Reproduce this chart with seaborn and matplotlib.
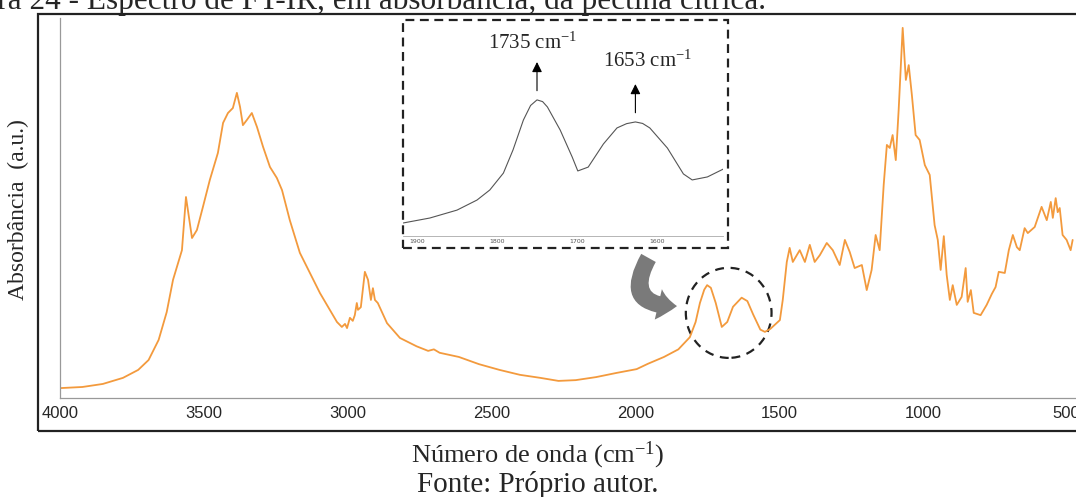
import numpy as np
import pandas as pd
import matplotlib
matplotlib.use("Agg")
import matplotlib.pyplot as plt
from matplotlib.patches import Rectangle, Ellipse, FancyArrowPatch
import seaborn as sns

# FT-IR spectrum of citric pectin (absorbance, arbitrary units)
wavenumber = [4000, 3922, 3851, 3781, 3728, 3692, 3657, 3629, 3607, 3576, 3562, 3541,
              3524, 3503, 3479, 3451, 3433, 3416, 3399, 3385, 3374, 3364, 3350, 3333,
              3315, 3294, 3270, 3246, 3228, 3201, 3166, 3096, 3037, 3020, 3009, 3002,
              2992, 2982, 2975, 2968, 2964, 2954, 2940, 2929, 2919, 2912, 2905, 2895,
              2863, 2818, 2760, 2720, 2700, 2680, 2613, 2543, 2472, 2401, 2330, 2267,
              2207, 2136, 2065, 1995, 1956, 1900, 1850, 1810, 1790, 1775, 1760, 1750,
              1737, 1720, 1699, 1680, 1660, 1630, 1610, 1590, 1565, 1549, 1530, 1497,
              1487, 1473, 1463, 1452, 1438, 1428, 1410, 1393, 1376, 1358, 1334, 1313,
              1289, 1271, 1254, 1237, 1212, 1195, 1178, 1164, 1150, 1136, 1125, 1115,
              1105, 1094, 1084, 1070, 1059, 1049, 1038, 1025, 1011, 993, 976, 959,
              948, 938, 927, 917, 906, 896, 882, 865, 851, 844, 833, 823, 799, 778,
              760, 747, 736, 715, 701, 687, 673, 663, 646, 635, 611, 587, 569, 555,
              548, 538, 531, 524, 514, 500, 486, 479]
absorbance = [0.026, 0.029, 0.037, 0.053, 0.074, 0.100, 0.153, 0.226, 0.311, 0.389, 0.529, 0.421,
              0.442, 0.503, 0.574, 0.645, 0.724, 0.750, 0.763, 0.803, 0.766, 0.718, 0.732, 0.750,
              0.713, 0.661, 0.608, 0.579, 0.547, 0.468, 0.382, 0.276, 0.200, 0.187, 0.195, 0.184,
              0.211, 0.203, 0.218, 0.250, 0.232, 0.239, 0.332, 0.311, 0.258, 0.289, 0.258, 0.250,
              0.197, 0.158, 0.136, 0.124, 0.128, 0.119, 0.108, 0.089, 0.074, 0.061, 0.053, 0.045,
              0.047, 0.055, 0.066, 0.076, 0.090, 0.108, 0.128, 0.160, 0.200, 0.250, 0.285, 0.297,
              0.290, 0.250, 0.187, 0.200, 0.240, 0.264, 0.255, 0.220, 0.180, 0.174, 0.182, 0.205,
              0.258, 0.358, 0.395, 0.358, 0.376, 0.389, 0.358, 0.403, 0.358, 0.376, 0.408, 0.389,
              0.350, 0.416, 0.384, 0.342, 0.350, 0.284, 0.337, 0.429, 0.389, 0.561, 0.666, 0.658,
              0.692, 0.626, 0.758, 0.974, 0.837, 0.876, 0.797, 0.692, 0.679, 0.613, 0.587, 0.455,
              0.416, 0.337, 0.426, 0.324, 0.258, 0.297, 0.245, 0.266, 0.342, 0.253, 0.284, 0.224,
              0.218, 0.245, 0.274, 0.292, 0.332, 0.329, 0.389, 0.429, 0.397, 0.389, 0.447, 0.434,
              0.450, 0.503, 0.468, 0.516, 0.474, 0.526, 0.489, 0.500, 0.429, 0.416, 0.389, 0.416]

# zoomed carbonyl region shown in the inset
inset_wavenumber = [1917, 1884, 1850, 1825, 1809, 1792, 1780, 1767, 1758, 1750, 1743, 1737,
                    1721, 1706, 1699, 1686, 1667, 1650, 1638, 1627, 1618, 1609, 1587, 1567,
                    1556, 1537, 1517]
inset_absorbance = [0.061, 0.084, 0.121, 0.168, 0.215, 0.294, 0.402, 0.542, 0.610, 0.636, 0.628, 0.603,
                    0.495, 0.369, 0.304, 0.322, 0.430, 0.505, 0.525, 0.533, 0.526, 0.505, 0.411, 0.290,
                    0.262, 0.276, 0.313]
peak_labels = ["1735 cm$^{\\mathrm{-1}}$", "1653 cm$^{\\mathrm{-1}}$"]

x_ticks = [4000, 3500, 3000, 2500, 2000, 1500, 1000, 500]
inset_ticks = [1900, 1800, 1700, 1600]

sns.set_style("white")
plt.rcParams["mathtext.fontset"] = "custom"
plt.rcParams["mathtext.rm"] = "Liberation Serif"
plt.rcParams["mathtext.it"] = "Liberation Serif:italic"

W, H = 1076, 497
fig = plt.figure(figsize=(W / 100, H / 100), dpi=100)

def fx(px):
    return px / W

def fy(py):
    return 1 - py / H

spec = pd.DataFrame({"wn": wavenumber, "A": absorbance})
ax = fig.add_axes([fx(60), fy(398), fx(1081) - fx(60), fy(18) - fy(398)])
sns.lineplot(data=spec, x="wn", y="A", ax=ax, color="#f39a3d", lw=1.3, sort=False)
ax.set_xlim(4000, 450)
ax.set_ylim(0, 1)
ax.set_xticks(x_ticks)
ax.set_xticklabels([str(t) for t in x_ticks], family="Liberation Sans", fontsize=12)
ax.set_yticks(np.linspace(0, 1, 11))
ax.set_yticklabels([])
ax.tick_params(axis="both", direction="in", color="#999999", length=4, width=0.8)
ax.tick_params(axis="x", pad=6)
ax.set_xlabel("")
ax.set_ylabel("")
for s in ["top", "right"]:
    ax.spines[s].set_visible(False)
for s in ["left", "bottom"]:
    ax.spines[s].set_color("#999999")
    ax.spines[s].set_linewidth(0.9)

# dashed circle around the carbonyl bands
ax.add_patch(Ellipse((1675, 0.224), 298, 0.237, fill=False, ec="#222222",
                     lw=1.6, ls=(0, (4, 3)), clip_on=False))
# curved grey arrow pointing at the circle
ax.add_patch(FancyArrowPatch((1949, 0.375), (1845, 0.242),
                             connectionstyle="arc3,rad=0.9",
                             arrowstyle="simple,head_length=0.9,head_width=1.5,tail_width=0.8",
                             mutation_scale=15, color="#7a7a7a", lw=0))

# inset
iset = pd.DataFrame({"wn": inset_wavenumber, "A": inset_absorbance})
axi = fig.add_axes([fx(403), fy(236), fx(723) - fx(403), fy(22) - fy(236)])
sns.lineplot(data=iset, x="wn", y="A", ax=axi, color="#555555", lw=0.8, sort=False)
axi.set_xlim(1917.5, 1517.5)
axi.set_ylim(0, 1)
axi.set_xticks(inset_ticks)
axi.set_xticklabels([str(t) for t in inset_ticks], fontsize=4.5, color="#555555")
axi.set_yticks([])
axi.tick_params(axis="x", direction="in", length=2, width=0.5, color="#999999", pad=2)
axi.set_xlabel("")
axi.set_ylabel("")
axi.patch.set_alpha(0)
for s in ["top", "right", "left"]:
    axi.spines[s].set_visible(False)
axi.spines["bottom"].set_color("#aaaaaa")
axi.spines["bottom"].set_linewidth(0.6)

iw = np.array(inset_wavenumber)
ia = np.array(inset_absorbance)
first = iw > 1700
peaks = [int(np.argmax(np.where(first, ia, -1))), int(np.argmax(np.where(~first, ia, -1)))]
label_dx = [5, -15]
label_dy = [0.185, 0.205]
for k, (p, lab) in enumerate(zip(peaks, peak_labels)):
    x0 = iw[p]
    y0 = ia[p] + 0.03
    axi.annotate("", xy=(x0, y0 + 0.16), xytext=(x0, y0),
                 arrowprops=dict(arrowstyle="-|>,head_length=0.6,head_width=0.3",
                                 color="black", lw=0.8))
    axi.text(x0 + label_dx[k], y0 + label_dy[k], lab, ha="center", va="bottom",
             family="Liberation Serif", fontsize=15)

# dashed frame of the inset
fig.add_artist(Rectangle((fx(403), fy(248)), fx(728) - fx(403), fy(20) - fy(248),
                         transform=fig.transFigure, fill=False, ec="#222222",
                         lw=1.6, ls=(0, (4, 2.5))))

# outer frame
fig.add_artist(Rectangle((fx(38), fy(431)), fx(1090) - fx(38), fy(14) - fy(431),
                         transform=fig.transFigure, fill=False, ec="#222222", lw=1.6))

fig.text(fx(18), fy(210), "Absorbância  (a.u.)", rotation=90, ha="center", va="center",
         family="Liberation Serif", fontsize=17)
fig.text(fx(538), fy(455), "Número de onda (cm$^{\\mathrm{-1}}$)", ha="center", va="center",
         family="Liberation Serif", fontsize=19)
fig.text(fx(538), fy(485), "Fonte: Próprio autor.", ha="center", va="center",
         family="Liberation Serif", fontsize=21)
fig.text(fx(766), fy(9), "Figura 24 - Espectro de FT-IR, em absorbância, da pectina cítrica.",
         ha="right", va="baseline", family="Liberation Serif", fontsize=22.5)

fig.savefig("out.png", dpi=100)
